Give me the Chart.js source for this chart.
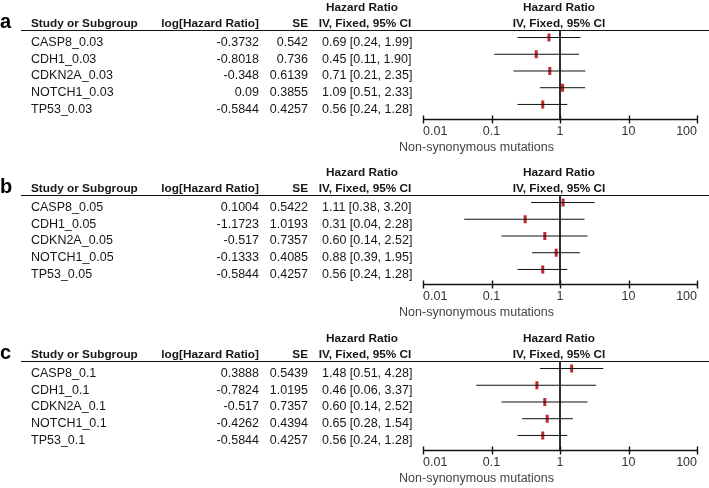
<!DOCTYPE html>
<html>
<head>
<meta charset="utf-8">
<script src="https://cdn.jsdelivr.net/npm/chart.js@4.4.1/dist/chart.umd.min.js"></script>
<style>
  html, body { margin: 0; padding: 0; background: #fff; }
  #wrap { position: relative; width: 709px; height: 488px; overflow: hidden; }
  canvas { position: absolute; left: 0; }
</style>
</head>
<body>
<div id="wrap">
  <canvas id="panelA" width="709" height="157" style="top:0px"></canvas>
  <canvas id="panelB" width="709" height="157" style="top:165px"></canvas>
  <canvas id="panelC" width="709" height="157" style="top:331px"></canvas>
</div>
<script>
// Panel a (cut-off 0.03)
const subgroupsA = ['CASP8_0.03', 'CDH1_0.03', 'CDKN2A_0.03', 'NOTCH1_0.03', 'TP53_0.03'];
const logHrA = [-0.3732, -0.8018, -0.348, 0.09, -0.5844];
const seA = [0.542, 0.736, 0.6139, 0.3855, 0.4257];
const hrA = [0.69, 0.45, 0.71, 1.09, 0.56];
const ciLowA = [0.24, 0.11, 0.21, 0.51, 0.24];
const ciHighA = [1.99, 1.90, 2.35, 2.33, 1.28];

// Panel b (cut-off 0.05)
const subgroupsB = ['CASP8_0.05', 'CDH1_0.05', 'CDKN2A_0.05', 'NOTCH1_0.05', 'TP53_0.05'];
const logHrB = [0.1004, -1.1723, -0.517, -0.1333, -0.5844];
const seB = [0.5422, 1.0193, 0.7357, 0.4085, 0.4257];
const hrB = [1.11, 0.31, 0.60, 0.88, 0.56];
const ciLowB = [0.38, 0.04, 0.14, 0.39, 0.24];
const ciHighB = [3.20, 2.28, 2.52, 1.95, 1.28];

// Panel c (cut-off 0.1)
const subgroupsC = ['CASP8_0.1', 'CDH1_0.1', 'CDKN2A_0.1', 'NOTCH1_0.1', 'TP53_0.1'];
const logHrC = [0.3888, -0.7824, -0.517, -0.4262, -0.5844];
const seC = [0.5439, 1.0195, 0.7357, 0.4394, 0.4257];
const hrC = [1.48, 0.46, 0.60, 0.65, 0.56];
const ciLowC = [0.51, 0.06, 0.14, 0.28, 0.24];
const ciHighC = [4.28, 3.37, 2.52, 1.54, 1.28];

// x axis
const tickValues = [0.01, 0.1, 1, 10, 100];
const axisLabel = 'Non-synonymous mutations';

const FONT = '"Liberation Sans", Arial, sans-serif';
const TEXT = '#161616';
const MARK = '#c4272b';

// draws the table columns, header, axis line and tick marks
const tablePlugin = {
    id: 'forestTable',
    afterDraw(chart) {
        const p = chart.options.plugins.forestTable;
        const ctx = chart.ctx;
        const xs = chart.scales.x;
        const ys = chart.scales.y;
        const area = chart.chartArea;
        ctx.save();

        // panel letter
        ctx.fillStyle = '#000';
        ctx.font = 'bold 20px ' + FONT;
        ctx.textAlign = 'left';
        ctx.fillText(p.letter, 0, 28);

        // header text
        ctx.fillStyle = TEXT;
        ctx.font = 'bold 11.8px ' + FONT;
        ctx.textAlign = 'left';
        ctx.fillText('Study or Subgroup', 31, 27);
        ctx.textAlign = 'right';
        ctx.fillText('log[Hazard Ratio]', 259, 27);
        ctx.fillText('SE', 308, 27);
        ctx.textAlign = 'center';
        ctx.fillText('Hazard Ratio', 362, 11);
        ctx.fillText('IV, Fixed, 95% CI', 365, 27);
        const mid = xs.getPixelForValue(1);
        ctx.fillText('Hazard Ratio', mid - 1, 11);
        ctx.fillText('IV, Fixed, 95% CI', mid - 1, 27);

        // header rule
        ctx.strokeStyle = '#111';
        ctx.lineWidth = 1.2;
        ctx.beginPath();
        ctx.moveTo(21, area.top + 0.5);
        ctx.lineTo(709, area.top + 0.5);
        ctx.stroke();

        // rows
        ctx.font = '12.5px ' + FONT;
        p.names.forEach((name, i) => {
            const y = ys.getPixelForValue(i) + 8.5;
            ctx.textAlign = 'left';
            ctx.fillText(name, 31, y);
            ctx.textAlign = 'right';
            ctx.fillText(String(p.logHr[i]), 259, y);
            ctx.fillText(String(p.se[i]), 308, y);
            ctx.textAlign = 'left';
            ctx.fillText(p.hr[i].toFixed(2) + ' [' + p.lo[i].toFixed(2) + ', ' + p.hi[i].toFixed(2) + ']', 322, y);
        });

        // axis line and tick marks crossing it
        const yAxis = area.bottom;
        ctx.strokeStyle = '#111';
        ctx.lineWidth = 1.4;
        ctx.beginPath();
        ctx.moveTo(area.left, yAxis);
        ctx.lineTo(area.right, yAxis);
        ctx.stroke();
        tickValues.forEach(v => {
            const x = Math.round(xs.getPixelForValue(v)) + 0.5;
            ctx.beginPath();
            ctx.moveTo(x, yAxis - 4);
            ctx.lineTo(x, yAxis + 4);
            ctx.stroke();
        });

        // axis caption
        ctx.fillStyle = '#444';
        ctx.font = '12.5px ' + FONT;
        ctx.textAlign = 'right';
        ctx.fillText(axisLabel, mid - 6, area.bottom + 31);
        ctx.restore();
    }
};

function makePanel(id, letter, names, logHr, se, hr, lo, hi) {
    const datasets = [];
    // confidence interval lines
    names.forEach((n, i) => {
        datasets.push({
            type: 'line',
            data: [{ x: lo[i], y: i }, { x: hi[i], y: i }],
            borderColor: '#111',
            borderWidth: 1,
            pointRadius: 0,
            fill: false
        });
    });
    // line of no effect
    datasets.push({
        type: 'line',
        data: [{ x: 1, y: -0.45 }, { x: 1, y: 4.9 }],
        borderColor: '#111',
        borderWidth: 1,
        pointRadius: 0,
        fill: false
    });
    // point estimates
    datasets.push({
        type: 'scatter',
        data: hr.map((v, i) => ({ x: v, y: i })),
        pointStyle: 'line',
        rotation: 90,
        radius: 4,
        borderWidth: 3,
        borderColor: MARK,
        backgroundColor: MARK
    });

    new Chart(document.getElementById(id).getContext('2d'), {
        type: 'scatter',
        data: { datasets: datasets },
        plugins: [tablePlugin],
        options: {
            responsive: false,
            animation: false,
            devicePixelRatio: 1,
            layout: { padding: { left: 423, right: 12, top: 30, bottom: 0 } },
            plugins: {
                legend: { display: false },
                tooltip: { enabled: false },
                forestTable: { letter: letter, names: names, logHr: logHr, se: se, hr: hr, lo: lo, hi: hi }
            },
            scales: {
                x: {
                    type: 'logarithmic',
                    min: 0.01,
                    max: 100,
                    afterBuildTicks: (scale) => {
                        scale.ticks = tickValues.map(v => ({ value: v }));
                    },
                    afterFit: (scale) => { scale.height = 37.5; },
                    grid: { display: false },
                    border: { display: false },
                    ticks: {
                        autoSkip: false,
                        maxRotation: 0,
                        align: 'inner',
                        padding: -3,
                        color: '#333',
                        font: { family: FONT, size: 12.5 },
                        callback: (v) => String(v)
                    }
                },
                y: {
                    type: 'linear',
                    display: false,
                    reverse: true,
                    min: -0.45,
                    max: 4.9
                }
            }
        }
    });
}

makePanel('panelA', 'a', subgroupsA, logHrA, seA, hrA, ciLowA, ciHighA);
makePanel('panelB', 'b', subgroupsB, logHrB, seB, hrB, ciLowB, ciHighB);
makePanel('panelC', 'c', subgroupsC, logHrC, seC, hrC, ciLowC, ciHighC);
</script>
</body>
</html>
